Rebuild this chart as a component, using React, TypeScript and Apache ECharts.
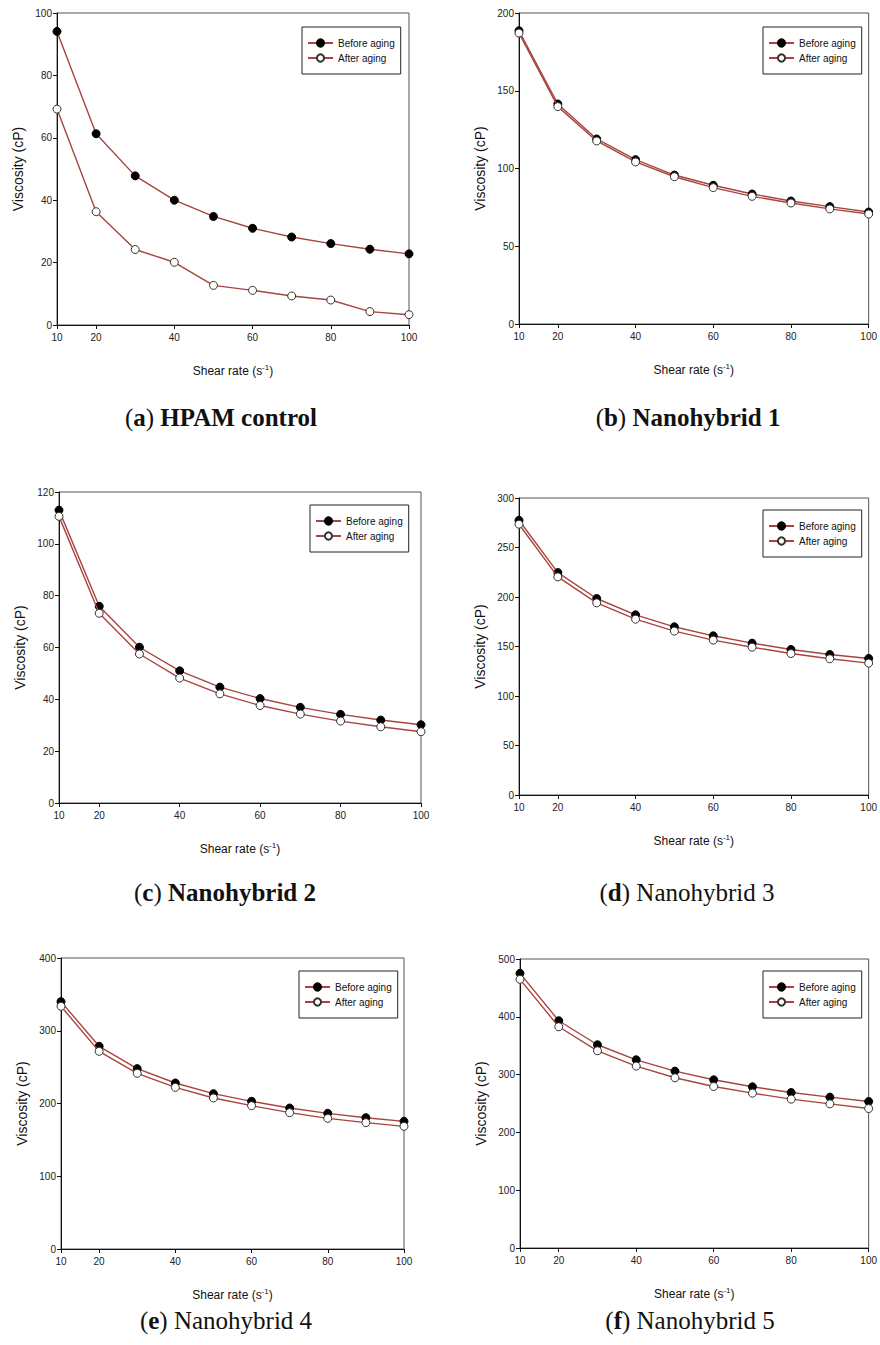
import React, { useEffect, useRef } from "react";
import * as echarts from "echarts";

// Shear rates (s^-1) at which viscosity was measured
const shearRate = [10, 20, 30, 40, 50, 60, 70, 80, 90, 100];
const xTickValues = [10, 20, 40, 60, 80, 100];

// Viscosity (cP) before / after aging
const hpamBefore = [94.1, 61.3, 47.8, 40.0, 34.8, 31.0, 28.2, 26.1, 24.3, 22.8];
const hpamAfter = [69.2, 36.3, 24.2, 20.1, 12.7, 11.1, 9.3, 8.0, 4.3, 3.3];
const nh1Before = [188.6, 141.5, 119.0, 105.7, 95.8, 89.2, 83.6, 79.1, 75.5, 72.0];
const nh1After = [187.1, 139.8, 117.7, 104.2, 94.7, 87.7, 82.1, 77.8, 74.0, 70.7];
const nh2Before = [113.0, 75.9, 60.1, 51.0, 44.7, 40.3, 36.9, 34.2, 32.0, 30.2];
const nh2After = [110.6, 73.2, 57.5, 48.2, 42.1, 37.6, 34.3, 31.6, 29.4, 27.5];
const nh3Before = [277.5, 224.7, 198.5, 182.0, 169.9, 160.8, 153.4, 147.0, 141.9, 137.9];
const nh3After = [273.5, 220.3, 194.1, 177.6, 165.5, 156.4, 149.3, 142.9, 137.6, 133.2];
const nh4Before = [340.0, 278.6, 247.9, 228.2, 213.5, 203.0, 193.8, 186.5, 180.5, 175.5];
const nh4After = [333.6, 271.7, 241.5, 222.2, 207.6, 197.0, 187.4, 179.6, 173.7, 168.6];
const nh5Before = [475.2, 393.2, 351.6, 325.6, 306.0, 291.0, 278.9, 269.0, 261.0, 253.5];
const nh5After = [464.8, 382.8, 341.2, 314.7, 294.5, 279.4, 267.9, 257.5, 249.4, 241.3];

// Y-axis ranges per panel: [max, interval]
const yMaxes = [100, 200, 120, 300, 400, 500];
const yIntervals = [20, 50, 20, 50, 100, 100];

// Panel captions: letter, name, whether the name is bold
const captionLetters = ["a", "b", "c", "d", "e", "f"];
const captionNames = ["HPAM control", "Nanohybrid 1", "Nanohybrid 2", "Nanohybrid 3", "Nanohybrid 4", "Nanohybrid 5"];
const captionBoldName = [true, true, true, false, false, false];

const SERIES_BEFORE = "Before aging";
const SERIES_AFTER = "After aging";

const panels = [
  { before: hpamBefore, after: hpamAfter, grid: { left: 57, top: 13, width: 352, height: 312 }, legend: { left: 302, top: 27 }, caption: { x: 221, y: 417 } },
  { before: nh1Before, after: nh1After, grid: { left: 519, top: 13, width: 352, height: 311 }, legend: { left: 763, top: 27 }, caption: { x: 688, y: 417 } },
  { before: nh2Before, after: nh2After, grid: { left: 59, top: 492, width: 362, height: 311 }, legend: { left: 310, top: 505 }, caption: { x: 225, y: 892 } },
  { before: nh3Before, after: nh3After, grid: { left: 519, top: 498, width: 352, height: 297 }, legend: { left: 763, top: 510 }, caption: { x: 687, y: 892 } },
  { before: nh4Before, after: nh4After, grid: { left: 61, top: 958, width: 343, height: 291 }, legend: { left: 299, top: 971 }, caption: { x: 226, y: 1320 } },
  { before: nh5Before, after: nh5After, grid: { left: 520, top: 959, width: 351, height: 289 }, legend: { left: 763, top: 971 }, caption: { x: 690, y: 1320 } },
];

const SANS = "'Liberation Sans', Arial, sans-serif";
const SERIF = "'Liberation Serif', 'DejaVu Serif', serif";
const LINE_COLOR = "#a8443f";
const CAPTION_SIZE = 25;

function buildOption() {
  const grid: any[] = [];
  const xAxis: any[] = [];
  const yAxis: any[] = [];
  const series: any[] = [];
  const legend: any[] = [];
  const graphic: any[] = [];

  panels.forEach((p, i) => {
    grid.push({
      ...p.grid,
      show: true,
      borderColor: "#555",
      borderWidth: 1,
      backgroundColor: "transparent",
    });

    xAxis.push({
      type: "value",
      gridIndex: i,
      min: 10,
      max: 100,
      interval: 10,
      name: "{a|Shear rate (s}{b|-1}{a|)}",
      nameLocation: "middle",
      nameGap: 38,
      nameTextStyle: {
        rich: {
          a: { fontFamily: SANS, fontSize: 12, color: "#111", lineHeight: 14, verticalAlign: "bottom" },
          b: { fontFamily: SANS, fontSize: 8, color: "#111", lineHeight: 14, verticalAlign: "top" },
        },
      },
      axisLine: { show: true, onZero: false, lineStyle: { color: "#111", width: 1 } },
      axisTick: { show: true, inside: false, length: 4, customValues: xTickValues, lineStyle: { color: "#111" } },
      axisLabel: { customValues: xTickValues, fontFamily: SANS, fontSize: 10, color: "#222", margin: 7 },
      splitLine: { show: false },
    });

    yAxis.push({
      type: "value",
      gridIndex: i,
      min: 0,
      max: yMaxes[i],
      interval: yIntervals[i],
      name: "Viscosity (cP)",
      nameLocation: "middle",
      nameGap: 32,
      nameTextStyle: { fontFamily: SANS, fontSize: 14, color: "#111" },
      axisLine: { show: true, onZero: false, lineStyle: { color: "#111", width: 1 } },
      axisTick: { show: true, inside: false, length: 4, lineStyle: { color: "#111" } },
      axisLabel: { fontFamily: SANS, fontSize: 10, color: "#222", margin: 5 },
      splitLine: { show: false },
    });

    const mk = (name: string, values: number[], filled: boolean) => ({
      type: "line",
      name,
      xAxisIndex: i,
      yAxisIndex: i,
      data: shearRate.map((x, k) => [x, values[k]]),
      symbol: "circle",
      symbolSize: 8,
      showSymbol: true,
      lineStyle: { color: LINE_COLOR, width: 1.4 },
      itemStyle: filled
        ? { color: "#000", borderColor: "#000", borderWidth: 1 }
        : { color: "#fff", borderColor: "#333", borderWidth: 1 },
      emphasis: { disabled: true },
      z: filled ? 2 : 3,
    });
    series.push(mk(SERIES_BEFORE, p.before, true));
    series.push(mk(SERIES_AFTER, p.after, false));

    legend.push({
      data: [SERIES_BEFORE, SERIES_AFTER],
      orient: "vertical",
      left: p.legend.left,
      top: p.legend.top,
      padding: [11, 6, 11, 5],
      itemGap: 5,
      itemWidth: 25,
      itemHeight: 9,
      borderColor: "#222",
      borderWidth: 1,
      backgroundColor: "#fff",
      selectedMode: false,
      textStyle: { fontFamily: SANS, fontSize: 10, color: "#111", padding: [0, 0, 0, 0] },
    });

    const letter = captionLetters[i];
    const nameTag = captionBoldName[i] ? "nb" : "nr";
    graphic.push({
      type: "text",
      x: p.caption.x,
      y: p.caption.y,
      style: {
        text: `{nr|(}{lb|${letter}}{nr|) }{${nameTag}|${captionNames[i]}}`,
        textAlign: "center",
        textVerticalAlign: "middle",
        rich: {
          nr: { fontFamily: SERIF, fontSize: CAPTION_SIZE, fontWeight: "normal", fill: "#111" },
          nb: { fontFamily: SERIF, fontSize: CAPTION_SIZE, fontWeight: "bold", fill: "#111" },
          lb: { fontFamily: SERIF, fontSize: CAPTION_SIZE, fontWeight: "bold", fill: "#111" },
        },
      },
    });
  });

  return {
    animation: false,
    backgroundColor: "#fff",
    grid,
    xAxis,
    yAxis,
    series,
    legend,
    graphic,
  };
}

export default function App() {
  const ref = useRef<HTMLDivElement>(null);

  useEffect(() => {
    if (!ref.current) return;
    const chart = echarts.init(ref.current, undefined, { renderer: "svg" });
    chart.setOption(buildOption());
    return () => chart.dispose();
  }, []);

  return (
    <div
      ref={ref}
      style={{ position: "absolute", left: 0, top: 0, width: 880, height: 1345, background: "#fff" }}
    />
  );
}
